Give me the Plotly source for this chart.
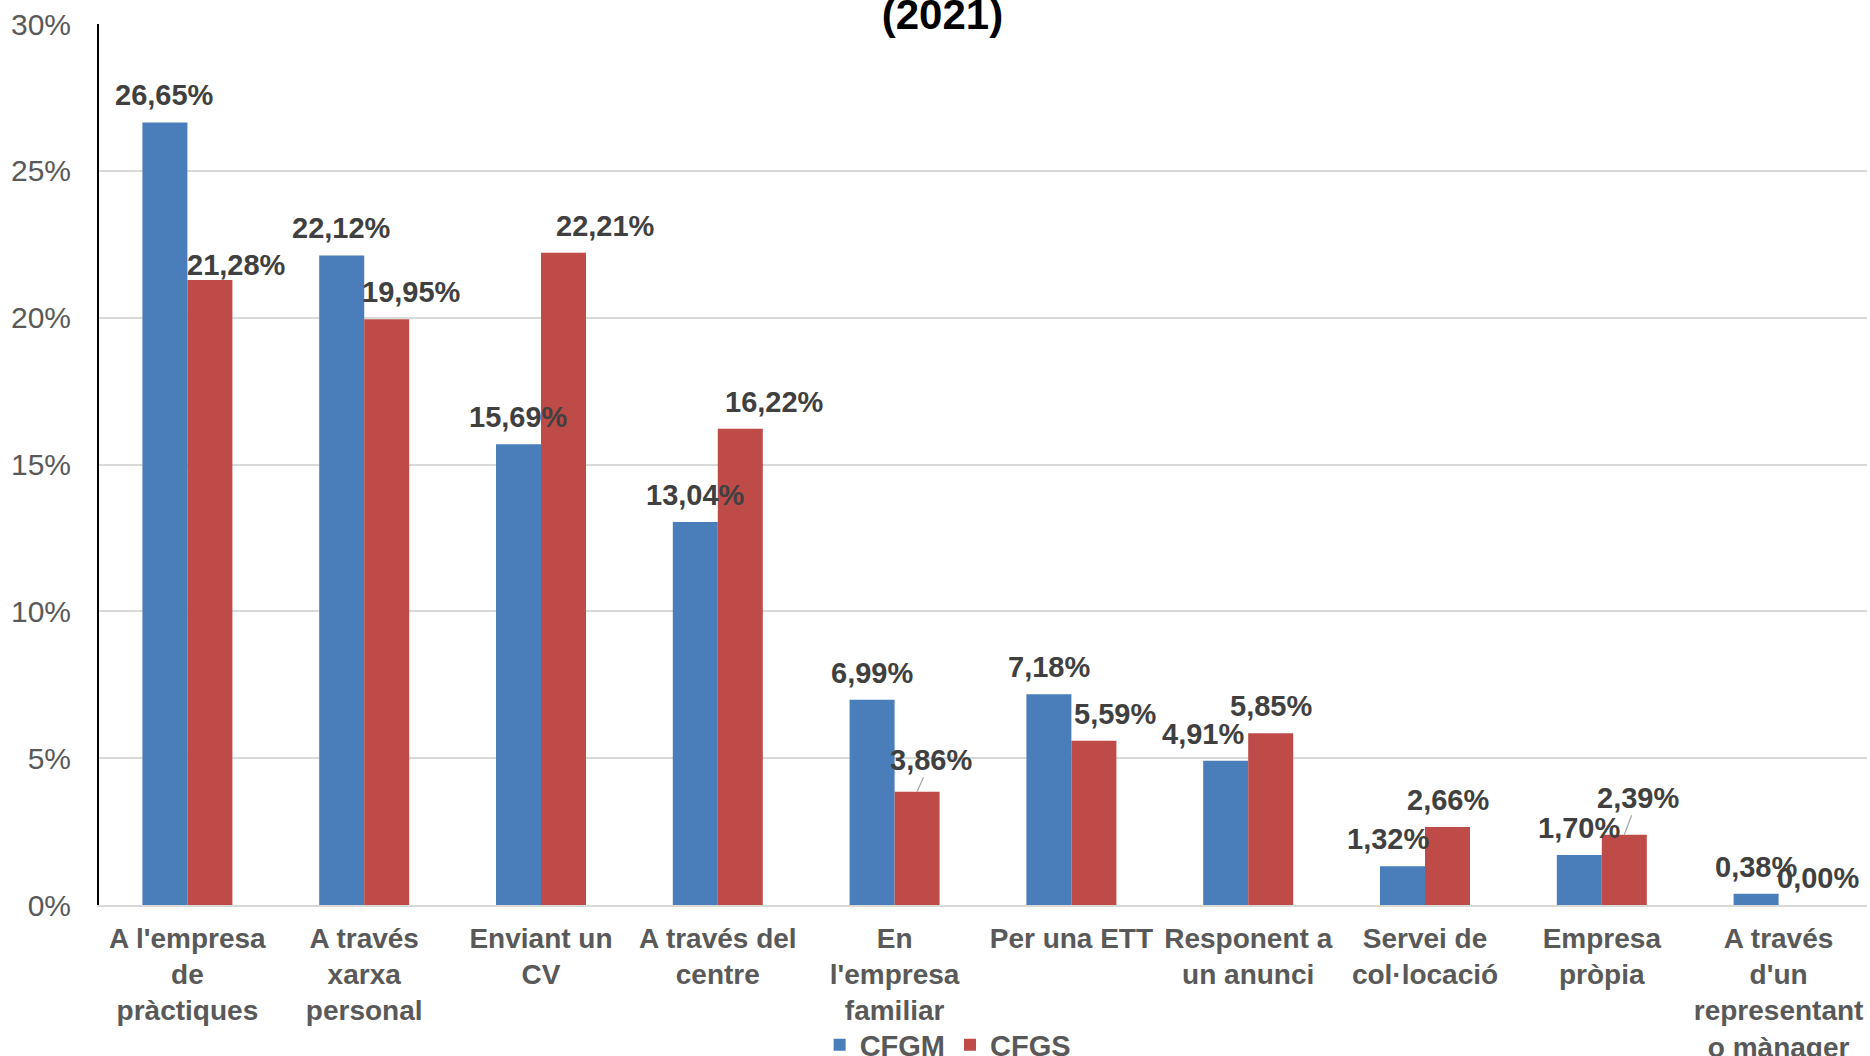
import plotly.graph_objects as go

# ---------------- data ----------------
categories = [
    "A l'empresa de pràctiques",
    "A través xarxa personal",
    "Enviant un CV",
    "A través del centre",
    "En l'empresa familiar",
    "Per una ETT",
    "Responent a un anunci",
    "Servei de col·locació",
    "Empresa pròpia",
    "A través d'un representant o mànager",
]
tick_labels = [
    "A l'empresa<br>de<br>pràctiques",
    "A través<br>xarxa<br>personal",
    "Enviant un<br>CV",
    "A través del<br>centre",
    "En<br>l'empresa<br>familiar",
    "Per una ETT",
    "Responent a<br>un anunci",
    "Servei de<br>col·locació",
    "Empresa<br>pròpia",
    "A través<br>d'un<br>representant<br>o mànager",
]
cfgm = [26.65, 22.12, 15.69, 13.04, 6.99, 7.18, 4.91, 1.32, 1.70, 0.38]
cfgs = [21.28, 19.95, 22.21, 16.22, 3.86, 5.59, 5.85, 2.66, 2.39, 0.00]
y_ticks = [0, 5, 10, 15, 20, 25, 30]
y_tick_labels = ["0%", "5%", "10%", "15%", "20%", "25%", "30%"]
title_text = "(2021)"

# ---------------- style ----------------
FONT = "Liberation Sans, Arial, sans-serif"
BLUE = "#4A7EBB"
RED = "#BE4B48"
LABEL_COLOR = "#404040"
AXIS_TEXT = "#595959"
GRID = "#D9D9D9"
HALF_BAR = 22.5
LABEL_LIFT = 27
# per-label manual nudges (pixels), as in the original chart
cfgm_dx = [0, 0, 0, 0, 0, 0, -23, -15, 0, 0]
cfgm_dy = [0, 0, 0, 0, 0, 0, 0, 0, 0, 0]
cfgs_dx = [27, 25, 42, 34, 14, 21, 0, 0, 14, 17]
cfgs_dy = [-12, 0, 0, 0, 5, 0, 0, 0, 10, 0]
cfgs_leader = [False, False, False, False, True, False, False, False, True, False]


def fmt(v):
    return f"{v:.2f}".replace(".", ",") + "%"


fig = go.Figure()
fig.add_bar(name="CFGM", x=categories, y=cfgm, marker=dict(color=BLUE, line=dict(width=0)))
fig.add_bar(name="CFGS", x=categories, y=cfgs, marker=dict(color=RED, line=dict(width=0)))

annotations = []
label_font = dict(family=FONT, size=29, color=LABEL_COLOR, weight="bold")
for i, (c, v) in enumerate(zip(categories, cfgm)):
    annotations.append(dict(
        x=c, y=v, xref="x", yref="y", text=fmt(v), showarrow=False,
        xshift=-HALF_BAR + cfgm_dx[i], yshift=LABEL_LIFT + cfgm_dy[i],
        xanchor="center", yanchor="middle", font=label_font))
for i, (c, v) in enumerate(zip(categories, cfgs)):
    if cfgs_leader[i]:
        annotations.append(dict(
            x=c, y=v, xref="x", yref="y", text=fmt(v), showarrow=True,
            arrowhead=0, arrowwidth=1.2, arrowcolor="#A6A6A6",
            ax=cfgs_dx[i], ay=-(LABEL_LIFT + cfgs_dy[i]),
            xshift=HALF_BAR, font=label_font))
    else:
        annotations.append(dict(
            x=c, y=v, xref="x", yref="y", text=fmt(v), showarrow=False,
            xshift=HALF_BAR + cfgs_dx[i], yshift=LABEL_LIFT + cfgs_dy[i],
            xanchor="center", yanchor="middle", font=label_font))

fig.update_layout(
    width=1870, height=1056,
    margin=dict(l=99, r=3, t=24, b=151, autoexpand=False),
    paper_bgcolor="white", plot_bgcolor="white",
    barmode="group", bargap=0.491, bargroupgap=0,
    font=dict(family=FONT, color=AXIS_TEXT),
    title=dict(text=title_text, x=0.504, xanchor="center", xref="container",
               y=1.0, yanchor="top", yref="container", pad=dict(t=0, b=0),
               font=dict(family=FONT, size=42, color="#000000", weight="bold")),
    xaxis=dict(
        tickmode="array", tickvals=categories, ticktext=tick_labels,
        tickfont=dict(family=FONT, size=28, color=AXIS_TEXT, weight="bold"),
        showline=True, linecolor=GRID, linewidth=2, showgrid=False,
        ticks="", ticklabelstandoff=7, automargin=False,
    ),
    yaxis=dict(
        range=[0, 30], tickmode="array", tickvals=y_ticks, ticktext=y_tick_labels,
        tickfont=dict(family=FONT, size=30, color=AXIS_TEXT),
        showgrid=True, gridcolor=GRID, gridwidth=2,
        showline=True, linecolor="#000000", linewidth=2, zeroline=False,
        ticks="", ticklabelstandoff=20, automargin=False,
    ),
    legend=dict(
        orientation="h", x=0.48, xanchor="center", xref="paper",
        y=0.0104, yanchor="middle", yref="container",
        font=dict(family=FONT, size=29, color=AXIS_TEXT, weight="bold"),
        bgcolor="rgba(0,0,0,0)", itemwidth=30, traceorder="normal",
    ),
    annotations=annotations,
    showlegend=True,
)

fig.write_html("out.html", config={"displayModeBar": False},
               post_script="document.body.style.margin='0px';")
